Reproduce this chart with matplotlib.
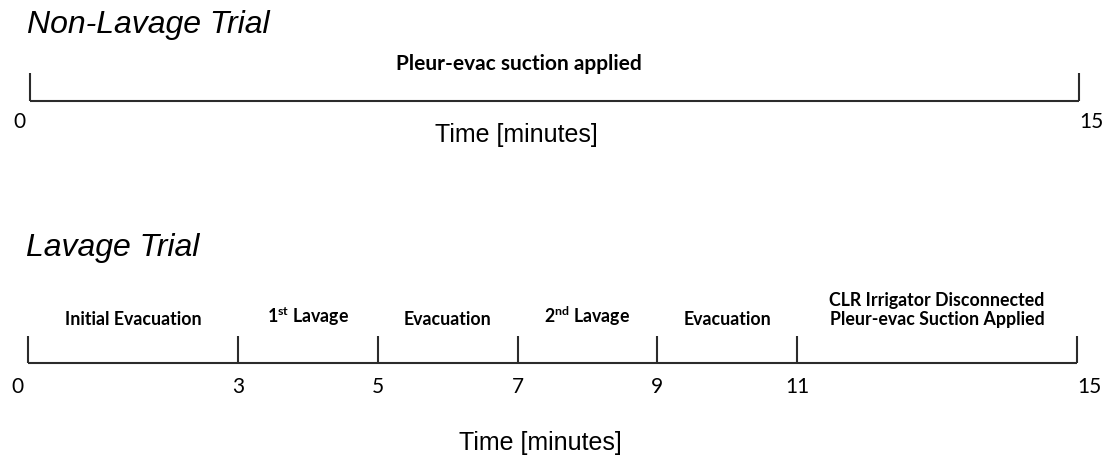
"""
Timeline of the non-lavage and lavage trials
"""
import matplotlib.pyplot as plt

plt.rcParams['mathtext.fontset'] = 'custom'
plt.rcParams['mathtext.rm'] = 'Lato'
plt.rcParams['mathtext.bf'] = 'Lato:bold'

# Non-lavage trial: phase boundaries [min] and phase names
non_lavage_bounds = [0, 15]
non_lavage_phases = ['Pleur-evac suction applied']

# Lavage trial
lavage_bounds = [0, 3, 5, 7, 9, 11, 15]
lavage_phases = ['Initial Evacuation',
                 r'1$^{\mathbf{st}}$ Lavage',
                 'Evacuation',
                 r'2$^{\mathbf{nd}}$ Lavage',
                 'Evacuation',
                 'CLR Irrigator Disconnected\nPleur-evac Suction Applied']

LINE_COLOR = '#2b2b2b'
W, H = 1107, 458


def draw_timeline(ax, bounds, phases, label_shift, label_rise, tick_drop, label_size):
    ax.set_xlim(bounds[0], bounds[-1])
    ax.set_ylim(0, 1)
    ax.axis('off')
    ax.hlines(0, bounds[0], bounds[-1], color=LINE_COLOR, lw=1.5, clip_on=False)
    ax.vlines(bounds, 0, 1, color=LINE_COLOR, lw=1.5, clip_on=False)

    # tick numbers
    for i, b in enumerate(bounds):
        if i == 0:
            ha, dx = 'right', -3
        elif i == len(bounds) - 1:
            ha, dx = 'left', 0
        else:
            ha, dx = 'center', 0
        ax.annotate(str(b), xy=(b, 0), xytext=(dx, -tick_drop),
                    textcoords='offset points', ha=ha, va='top',
                    fontsize=15, family='Lato', annotation_clip=False)

    # phase names
    for name, a, b in zip(phases, bounds[:-1], bounds[1:]):
        ax.annotate(name, xy=((a + b) / 2, 0), xytext=(label_shift, label_rise),
                    textcoords='offset points', ha='center', va='bottom',
                    multialignment='center', linespacing=1.15,
                    fontsize=label_size, family='Lato', fontweight='bold',
                    annotation_clip=False)


fig = plt.figure(figsize=(W / 100, H / 100), dpi=100)

# top timeline: line at y=101 px, ticks up to 73 px
ax1 = fig.add_axes([30 / W, 1 - 101 / H, 1049 / W, 28 / H])
draw_timeline(ax1, non_lavage_bounds, non_lavage_phases,
              label_shift=-26, label_rise=19.5, tick_drop=8, label_size=15)

# bottom timeline: line at y=363 px, ticks up to 336 px
ax2 = fig.add_axes([28 / W, 1 - 363 / H, 1049 / W, 27 / H])
draw_timeline(ax2, lavage_bounds, lavage_phases,
              label_shift=0, label_rise=25, tick_drop=10, label_size=12.8)

title_kw = dict(fontsize=23, family='Liberation Sans', style='italic', va='baseline')
fig.text(27 / W, 1 - 33 / H, 'Non-Lavage Trial', **title_kw)
fig.text(26 / W, 1 - 256 / H, 'Lavage Trial', **title_kw)

xlabel_kw = dict(fontsize=18, family='Liberation Sans', ha='center', va='baseline')
fig.text(516.5 / W, 1 - 142 / H, 'Time [minutes]', **xlabel_kw)
fig.text(540 / W, 1 - 450 / H, 'Time [minutes]', **xlabel_kw)

fig.savefig('out.png', dpi=100, facecolor='white')
plt.close(fig)
